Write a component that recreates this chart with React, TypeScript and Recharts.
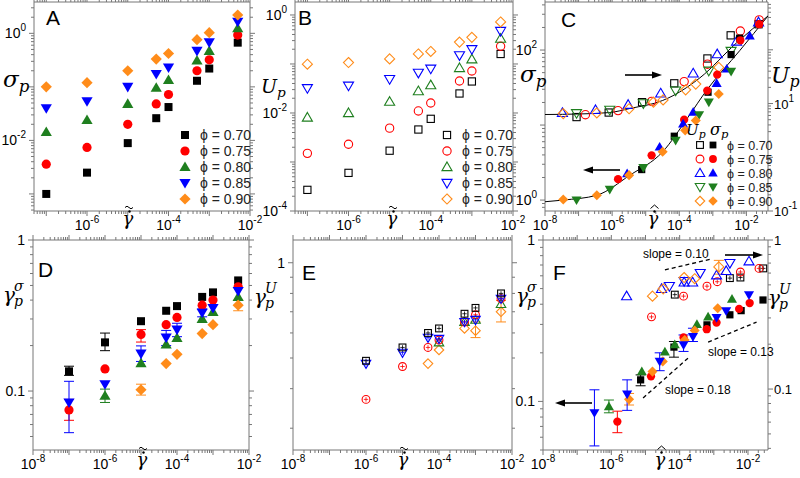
import React from "react";
import {
  ComposedChart,
  Scatter,
  Line,
  XAxis,
  YAxis,
  ErrorBar,
  ReferenceArea,
  ReferenceLine,
} from "recharts";

const PHI = ["0.70", "0.75", "0.80", "0.85", "0.90"];
const COLORS = ["#000000", "#ff0000", "#1f7f1f", "#0000ff", "#ff8c1a"];
const SHAPES = ["square", "circle", "up", "down", "diamond"] as const;
type ShapeKind = (typeof SHAPES)[number];

// nominal shear rates used in A, B, D, E
const RATES = [1e-7, 1e-6, 1e-5, 5e-5, 1e-4, 5e-4, 1e-3, 5e-3];

// A: sigma_p
const sA70 = [1.0e-3, 2.5e-3, 8.9e-3, 0.026, 0.042, 0.13, 0.22, 0.67];
const sA75 = [3.6e-3, 7.4e-3, 0.02, 0.048, 0.072, 0.2, 0.32, 0.93];
const sA80 = [0.0143, 0.024, 0.048, 0.096, 0.134, 0.31, 0.47, 1.24];
const sA85 = [0.04, 0.054, 0.1, 0.174, 0.23, 0.47, 0.68, 1.65];
const sA90 = [0.1, 0.12, 0.2, 0.33, 0.42, 0.76, 1.03, 2.2];

// B: U_p
const uB70 = [2.7e-4, 6e-4, 1.7e-3, 4.6e-3, 7.6e-3, 0.025, 0.044, 0.16];
const uB75 = [1.5e-3, 2.3e-3, 4.9e-3, 0.011, 0.016, 0.045, 0.072, 0.23];
const uB80 = [8.1e-3, 0.01, 0.017, 0.028, 0.037, 0.083, 0.125, 0.33];
const uB85 = [0.032, 0.036, 0.049, 0.066, 0.08, 0.15, 0.2, 0.47];
const uB90 = [0.099, 0.107, 0.127, 0.16, 0.18, 0.28, 0.35, 0.72];

// C: open = U_p (right axis), filled = sigma_p (left axis), rescaled rate
const cU70x = [8.7e-8, 7.9e-7, 7.8e-6, 7.1e-5, 6.9e-4, 3.4e-3, 2.3e-2];
const cU70 = [5.6, 6.8, 10.6, 23.8, 69, 186, 299];
const cU75x = [1.6e-7, 1.5e-6, 1.5e-5, 1.4e-4, 6.9e-4, 6.6e-3, 2.4e-2];
const cU75 = [6.2, 7.4, 11.0, 25.6, 54, 224, 360];
const cU80x = [3.3e-8, 3.2e-7, 3.0e-6, 2.8e-5, 2.6e-4, 1.35e-3, 5.1e-3, 2.3e-2];
const cU80 = [6.7, 7.6, 9.5, 15.5, 36.5, 83, 143, 326];
const cU85x = [8.7e-8, 8.5e-7, 8.5e-6, 7.8e-5, 7.6e-4, 3.5e-3];
const cU85 = [6.6, 7.6, 10.1, 17.4, 40.7, 95];
const cU90x = [3.5e-8, 3.5e-7, 3.2e-6, 1.7e-5, 3.3e-5, 1.55e-4, 3.1e-4, 1.5e-3];
const cU90 = [6.5, 6.7, 8.0, 10.6, 11.7, 18, 23, 47];

const cS70x = [7.6e-6, 7.1e-5, 7.2e-4, 3.5e-3, 6.3e-3];
const cS70 = [2.55, 7.1, 27.4, 87, 144];
const cS75x = [1.5e-6, 1.5e-5, 1.4e-4, 6.8e-4, 1.35e-3, 6.6e-3, 2.4e-2];
const cS75 = [1.9, 3.95, 11.8, 28.8, 47, 135, 221];
const cS80x = [2.8e-6, 2.6e-5, 1.3e-4, 2.6e-4, 1.3e-3, 2.6e-3, 1.26e-2];
const cS80 = [2.26, 5.1, 10.4, 14.9, 36, 56, 155];
const cS85x = [8.7e-8, 8.5e-7, 8.5e-6, 7.8e-5, 3.9e-4, 7.6e-4, 3.5e-3];
const cS85 = [1.0, 1.39, 2.7, 6.25, 13.7, 20.2, 52];
const cS90x = [3.5e-8, 3.5e-7, 3.2e-6, 3.2e-5, 1.5e-4, 3.1e-4, 1.5e-3];
const cS90 = [1.02, 1.16, 2.15, 4.4, 8.5, 11.5, 26];

// C: fitted curves
const fitUx = [1e-8, 1.1e-7, 8.5e-7, 3.4e-6, 3.2e-5, 6.5e-5, 4.1e-4, 5.1e-3, 0.044];
const fitU = [6.25, 6.4, 6.8, 8.1, 11.4, 14, 30, 135, 427];
const fitSx = [1e-8, 3.5e-8, 3.5e-7, 3.4e-6, 3.2e-5, 1.8e-4, 6.5e-4, 6.3e-3, 0.044];
const fitS = [0.95, 1.0, 1.16, 2.15, 4.4, 12.6, 29, 98, 285];

// D: gamma_p^sigma with error bounds [lo, hi]
type Bound = [number, number] | null;
const dS70 = [0.135, 0.21, 0.29, 0.34, 0.365, 0.42, 0.45, 0.54];
const dE70: Bound[] = [[0.127, 0.146], [0.185, 0.242], null, null, null, null, null, null];
const dS75 = [0.075, 0.14, 0.237, 0.275, 0.307, 0.37, 0.4, 0.49];
const dE75: Bound[] = [[0.064, 0.088], null, [0.211, 0.255], null, null, null, null, null];
const dS80 = [0.084, 0.111, 0.177, 0.226, 0.255, 0.33, 0.355, 0.46];
const dE80: Bound[] = [[0.053, 0.116], null, [0.157, 0.199], [0.2, 0.252], [0.229, 0.281], [0.31, 0.35], null, null];
const dS85 = [0.093, 0.153, 0.203, 0.225, 0.3, 0.334, 0.42];
const dE85: Bound[] = [[0.084, 0.103], null, null, null, null, null, null];
const dS90 = [0.102, 0.152, 0.175, 0.24, 0.275, 0.37];
const dE90: Bound[] = [[0.094, 0.111], null, null, null, null, [0.34, 0.4]];

// E: gamma_p^U
const eU70 = [0.49, 0.54, 0.6, 0.62, 0.69, 0.72, 0.8];
const eU75 = [0.37, 0.47, 0.54, 0.57, 0.65, 0.685, 0.77];
const eU80 = [0.48, 0.52, 0.58, 0.575, 0.65, 0.66, 0.77];
const eU85 = [0.56, 0.65, 0.66, 0.74];
const eU90 = [0.48, 0.53, 0.62, 0.61, 0.7];
const eE90: Bound[] = [null, null, null, [0.58, 0.65], [0.65, 0.76]];

// F: filled = gamma_p^sigma (left), open = gamma_p^U (right), rescaled rate
const fS70x = [7.2e-6, 6.8e-5, 6.3e-4, 2.95e-3, 6.3e-3, 2.75e-2];
const fS70 = [0.136, 0.217, 0.298, 0.344, 0.365, 0.425];
const fE70: Bound[] = [[0.125, 0.146], [0.188, 0.235], null, null, null, null];
const fS75x = [1.5e-6, 1.45e-5, 1.3e-4, 6.2e-4, 1.2e-3, 5.5e-3, 1.12e-2];
const fS75 = [0.075, 0.143, 0.249, 0.28, 0.308, 0.374, 0.407];
const fE75: Bound[] = [[0.064, 0.087], null, null, null, null, null, null];
const fS80x = [3.2e-7, 2.9e-6, 2.6e-5, 1.3e-4, 2.45e-4, 1.2e-3, 2.3e-3, 1.07e-2];
const fS80 = [0.085, 0.111, 0.177, 0.224, 0.252, 0.33, 0.364, 0.457];
const fE80: Bound[] = [[0.053, 0.118], [0.088, 0.136], [0.155, 0.2], [0.204, 0.258], [0.235, 0.284], null, null, null];
const fS85x = [8.5e-7, 7.8e-6, 3.7e-5, 7.2e-5, 3.2e-4, 6.8e-4, 3.4e-3];
const fS85 = [0.093, 0.153, 0.203, 0.225, 0.3, 0.334, 0.43];
const fE85: Bound[] = [[0.085, 0.102], null, null, null, null, null, null];
const fS90x = [3.3e-6, 1.6e-5, 3.2e-5, 1.4e-4, 2.75e-4, 1.3e-3];
const fS90 = [0.103, 0.153, 0.177, 0.24, 0.275, 0.378];
const fE90: Bound[] = [[0.095, 0.112], null, null, null, null, null];

const fU70x = [7.2e-5, 2.95e-3, 6.0e-3, 2.8e-2];
const fU70 = [0.43, 0.555, 0.56, 0.645];
const fU75x = [1.5e-5, 1.3e-4, 6.3e-4, 1.26e-3, 6.0e-3, 2.1e-2];
const fU75 = [0.305, 0.42, 0.49, 0.525, 0.61, 0.645];
const fU80x = [2.8e-6, 2.95e-5, 1.35e-4, 2.4e-4, 1.2e-3, 2.3e-3, 1.07e-2];
const fU80 = [0.42, 0.47, 0.52, 0.52, 0.58, 0.62, 0.72];
const fU85x = [5e-5, 1.35e-4, 4e-4, 2.95e-3];
const fU85 = [0.49, 0.53, 0.6, 0.7];
const fU90x = [1.6e-5, 3.3e-5, 1.35e-4, 2.75e-4, 1.4e-3];
const fU90 = [0.42, 0.47, 0.56, 0.55, 0.66];
const fUE90: Bound[] = [null, null, null, null, [0.59, 0.73]];

const AX = "#777";
const SANS = "'Liberation Sans', Arial, sans-serif";
const SERIF = "'DejaVu Serif', 'Liberation Serif', serif";
const LW = 44;
const RW = 44;
const MT = 8;
const BH = 34;

type Pt = { x: number; y: number; err?: [number, number] };
function pts(xs: number[], ys: number[], errs?: Bound[]): Pt[] {
  return xs.map((x, i) => {
    const e = errs ? errs[i] : null;
    return e ? { x, y: ys[i], err: [ys[i] - e[0], e[1] - ys[i]] } : { x, y: ys[i] };
  });
}

type AxisSpec = { domain: [number, number]; majors: number[]; labels: number[]; fmt: "pow" | "dec" };

const near = (a: number, b: number) => Math.abs(a - b) / Math.abs(b) < 1e-6;

function ticksOf(ax: AxisSpec) {
  const [lo, hi] = ax.domain;
  const out: number[] = [];
  const decades = [ax.majors[0] / 10, ...ax.majors];
  for (const d of decades)
    for (let k = 1; k <= 9; k++) {
      const v = +(d * k).toPrecision(6);
      if (v >= lo * 0.9999 && v <= hi * 1.0001 && !out.some((o) => near(o, v))) out.push(v);
    }
  return out.sort((a, b) => a - b);
}

function tickText(v: number, fmt: "pow" | "dec") {
  if (fmt === "dec") return <tspan>{String(v)}</tspan>;
  const e = Math.round(Math.log10(v));
  return (
    <>
      <tspan>10</tspan>
      <tspan dy={-7} fontSize={10}>
        {e < 0 ? "-" + Math.abs(e) : String(e)}
      </tspan>
    </>
  );
}

function XTick(props: any) {
  const { x, y, payload, ax, plotH } = props;
  const v = payload.value;
  const major = ax.majors.some((m: number) => near(m, v));
  const lab = ax.labels.some((m: number) => near(m, v));
  const L = major ? 5 : 3;
  return (
    <g>
      <line x1={x} x2={x} y1={y} y2={y + L} stroke={AX} />
      <line x1={x} x2={x} y1={y - plotH} y2={y - plotH - L} stroke={AX} />
      {lab && (
        <text x={x} y={y + 19} textAnchor="middle" fontSize={14} fontFamily={SANS} fill="#000">
          {tickText(v, ax.fmt)}
        </text>
      )}
    </g>
  );
}

function YTick(props: any) {
  const { x, y, payload, ax, side, plotW } = props;
  const v = payload.value;
  const major = ax.majors.some((m: number) => near(m, v));
  const lab = ax.labels.some((m: number) => near(m, v));
  const L = major ? 5 : 3;
  const dir = side === "left" ? -1 : 1;
  return (
    <g>
      <line x1={x} x2={x + dir * L} y1={y} y2={y} stroke={AX} />
      {plotW > 0 && <line x1={x + plotW} x2={x + plotW + L} y1={y} y2={y} stroke={AX} />}
      {lab && (
        <text
          x={x + dir * (side === "left" ? 8 : 6)}
          y={y + 5}
          textAnchor={side === "left" ? "end" : "start"}
          fontSize={side === "left" ? 14 : 13}
          fontFamily={SANS}
          fill="#000"
        >
          {tickText(v, ax.fmt)}
        </text>
      )}
    </g>
  );
}

function Marker(props: {
  shape: ShapeKind;
  cx: number;
  cy: number;
  color: string;
  open?: boolean;
  cross?: boolean;
  s?: number;
}) {
  const { shape, cx, cy, color, open = false, cross = false, s = 1 } = props;
  let body: React.ReactNode = null;
  if (shape === "square") {
    const h = 4 * s;
    body = <rect x={cx - h} y={cy - h} width={2 * h} height={2 * h} />;
  } else if (shape === "circle") {
    body = <circle cx={cx} cy={cy} r={4.6 * s} />;
  } else if (shape === "up") {
    const h = 5.6 * s;
    body = <polygon points={`${cx},${cy - h} ${cx + h},${cy + h * 0.72} ${cx - h},${cy + h * 0.72}`} />;
  } else if (shape === "down") {
    const h = 5.6 * s;
    body = <polygon points={`${cx},${cy + h} ${cx + h},${cy - h * 0.72} ${cx - h},${cy - h * 0.72}`} />;
  } else {
    const h = 5.6 * s;
    body = <polygon points={`${cx},${cy - h} ${cx + h},${cy} ${cx},${cy + h} ${cx - h},${cy}`} />;
  }
  const c = 2.6 * s;
  return (
    <g fill={open ? "none" : color} stroke={open ? color : "none"} strokeWidth={1.1}>
      {body}
      {cross && (
        <path
          d={`M${cx - c} ${cy}H${cx + c}M${cx} ${cy - c}V${cy + c}`}
          stroke={color}
          strokeWidth={0.8}
          fill="none"
        />
      )}
    </g>
  );
}

type SeriesSpec = {
  pts: Pt[];
  color: string;
  shape: ShapeKind;
  open?: boolean;
  cross?: boolean;
  axis?: "l" | "r";
  s?: number;
};
type CurveSpec = { xs: number[]; ys: number[]; axis: "l" | "r" };
type SegSpec = { a: { x: number; y: number }; b: { x: number; y: number }; axis: "l" | "r" };
type Frame = { left: number; top: number; w: number; h: number };

function Panel(props: {
  frame: Frame;
  xAx: AxisSpec;
  yl: AxisSpec;
  yr?: AxisSpec;
  series: SeriesSpec[];
  curves?: CurveSpec[];
  segs?: SegSpec[];
}) {
  const { frame, xAx, yl, yr, series, curves = [], segs = [] } = props;
  const W = LW + frame.w + RW;
  const H = MT + frame.h + BH;
  return (
    <div style={{ position: "absolute", left: frame.left - LW, top: frame.top - MT }}>
      <ComposedChart width={W} height={H} margin={{ top: MT, right: yr ? 0 : RW, bottom: 0, left: 0 }}>
        <XAxis
          xAxisId="b"
          type="number"
          dataKey="x"
          scale="log"
          domain={xAx.domain}
          allowDataOverflow
          ticks={ticksOf(xAx)}
          interval={0}
          tickSize={0}
          tickMargin={0}
          axisLine={false}
          tickLine={false}
          height={BH}
          tick={(p: any) => <XTick {...p} ax={xAx} plotH={frame.h} />}
        />
        <YAxis
          yAxisId="l"
          type="number"
          dataKey="y"
          scale="log"
          domain={yl.domain}
          allowDataOverflow
          ticks={ticksOf(yl)}
          interval={0}
          tickSize={0}
          tickMargin={0}
          axisLine={false}
          tickLine={false}
          width={LW}
          tick={(p: any) => <YTick {...p} ax={yl} side="left" plotW={yr ? 0 : frame.w} />}
        />
        {yr && (
          <YAxis
            yAxisId="r"
            orientation="right"
            type="number"
            dataKey="y"
            scale="log"
            domain={yr.domain}
            allowDataOverflow
            ticks={ticksOf(yr)}
            interval={0}
            tickSize={0}
            tickMargin={0}
            axisLine={false}
            tickLine={false}
            width={RW}
            tick={(p: any) => <YTick {...p} ax={yr} side="right" plotW={0} />}
          />
        )}
        <ReferenceArea
          xAxisId="b"
          yAxisId="l"
          x1={xAx.domain[0]}
          x2={xAx.domain[1]}
          y1={yl.domain[0]}
          y2={yl.domain[1]}
          fill="none"
          stroke={AX}
          strokeWidth={1}
          ifOverflow="visible"
        />
        {segs.map((sg, i) => (
          <ReferenceLine
            key={"sg" + i}
            xAxisId="b"
            yAxisId={sg.axis}
            segment={[sg.a, sg.b]}
            stroke="#000"
            strokeWidth={1.3}
            strokeDasharray="4 3"
          />
        ))}
        {curves.map((c, i) => (
          <Line
            key={"c" + i}
            xAxisId="b"
            yAxisId={c.axis}
            data={c.xs.map((x, j) => ({ x, y: c.ys[j] }))}
            dataKey="y"
            type="monotone"
            stroke="#000"
            strokeWidth={1}
            dot={false}
            activeDot={false}
            isAnimationActive={false}
          />
        ))}
        {series
          .filter((s) => s.pts.some((p) => p.err))
          .map((s, i) => (
            <Scatter
              key={"e" + i}
              xAxisId="b"
              yAxisId={s.axis || "l"}
              data={s.pts.filter((p) => p.err)}
              shape={() => <g />}
              isAnimationActive={false}
            >
              <ErrorBar dataKey="err" direction="y" width={5} stroke={s.color} strokeWidth={1} isAnimationActive={false} />
            </Scatter>
          ))}
        {series.map((s, i) => (
          <Scatter
            key={"s" + i}
            xAxisId="b"
            yAxisId={s.axis || "l"}
            data={s.pts}
            isAnimationActive={false}
            shape={(p: any) => (
              <Marker shape={s.shape} cx={p.cx} cy={p.cy} color={s.color} open={s.open} cross={s.cross} s={s.s} />
            )}
          />
        ))}
      </ComposedChart>
    </div>
  );
}

// axes
const xAB: AxisSpec = { domain: [5e-8, 1e-2], majors: [1e-7, 1e-6, 1e-5, 1e-4, 1e-3, 1e-2], labels: [1e-6, 1e-4, 1e-2], fmt: "pow" };
const yA: AxisSpec = { domain: [4.8e-4, 3.85], majors: [1e-3, 1e-2, 1e-1, 1], labels: [1e-2, 1], fmt: "pow" };
const yB: AxisSpec = { domain: [1e-4, 1.84], majors: [1e-4, 1e-3, 1e-2, 1e-1, 1], labels: [1e-4, 1e-2, 1], fmt: "pow" };
const DEC8 = [1e-8, 1e-7, 1e-6, 1e-5, 1e-4, 1e-3, 1e-2];
const LAB8 = [1e-8, 1e-6, 1e-4, 1e-2];
const xC: AxisSpec = { domain: [1e-8, 0.044], majors: DEC8, labels: LAB8, fmt: "pow" };
const ylC: AxisSpec = { domain: [0.715, 437], majors: [1, 10, 100], labels: [1, 100], fmt: "pow" };
const yrC: AxisSpec = { domain: [0.1, 776], majors: [0.1, 1, 10, 100], labels: [0.1, 10], fmt: "pow" };
const xDE: AxisSpec = { domain: [1e-8, 1e-2], majors: DEC8, labels: LAB8, fmt: "pow" };
const yD: AxisSpec = { domain: [0.0407, 1], majors: [0.1, 1], labels: [0.1, 1], fmt: "dec" };
const yE: AxisSpec = { domain: [0.256, 1.18], majors: [1], labels: [1], fmt: "dec" };
const xF: AxisSpec = { domain: [1e-8, 0.0385], majors: DEC8, labels: LAB8, fmt: "pow" };
const ylF: AxisSpec = { domain: [0.05, 1], majors: [0.1, 1], labels: [0.1, 1], fmt: "dec" };
const yrF: AxisSpec = { domain: [0.039, 1], majors: [0.1, 1], labels: [0.1, 1], fmt: "dec" };

const mk = (p: Pt[], i: number, extra: Partial<SeriesSpec> = {}): SeriesSpec => ({
  pts: p,
  color: COLORS[i],
  shape: SHAPES[i],
  ...extra,
});

const seriesA = [sA70, sA75, sA80, sA85, sA90].map((ys, i) => mk(pts(RATES, ys), i));
const seriesB = [uB70, uB75, uB80, uB85, uB90].map((ys, i) => mk(pts(RATES, ys), i, { open: true, s: 0.9 }));
const seriesC: SeriesSpec[] = [
  mk(pts(cU70x, cU70), 0, { open: true, axis: "r", s: 0.9 }),
  mk(pts(cU75x, cU75), 1, { open: true, axis: "r", s: 0.9 }),
  mk(pts(cU80x, cU80), 3, { open: true, axis: "r", s: 0.9, shape: "up" }),
  mk(pts(cU85x, cU85), 2, { open: true, axis: "r", s: 0.9, shape: "down" }),
  mk(pts(cU90x, cU90), 4, { open: true, axis: "r", s: 0.9 }),
  mk(pts(cS70x, cS70), 0, { s: 0.9 }),
  mk(pts(cS75x, cS75), 1, { s: 0.9 }),
  mk(pts(cS80x, cS80), 3, { s: 0.9, shape: "up" }),
  mk(pts(cS85x, cS85), 2, { s: 0.9, shape: "down" }),
  mk(pts(cS90x, cS90), 4, { s: 0.9 }),
];
const curvesC: CurveSpec[] = [
  { xs: fitUx, ys: fitU, axis: "r" },
  { xs: fitSx, ys: fitS, axis: "l" },
];
const seriesD: SeriesSpec[] = [
  mk(pts(RATES, dS70, dE70), 0),
  mk(pts(RATES, dS75, dE75), 1),
  mk(pts(RATES.slice(1), dS85, dE85), 2),
  mk(pts(RATES, dS80, dE80), 3),
  mk(pts(RATES.slice(2), dS90, dE90), 4),
];
const RE = RATES.slice(1);
const seriesE: SeriesSpec[] = [
  mk(pts(RATES.slice(3), eU90, eE90), 4, { open: true, s: 0.85 }),
  mk(pts(RATES.slice(4), eU85), 2, { open: true, s: 0.85 }),
  mk(pts(RE, eU75), 1, { open: true, cross: true, s: 0.85 }),
  mk(pts(RE, eU80), 3, { open: true, cross: true, s: 0.85 }),
  mk(pts(RE, eU70), 0, { open: true, cross: true, s: 0.85 }),
];
const seriesF: SeriesSpec[] = [
  mk(pts(fU70x, fU70), 0, { open: true, cross: true, axis: "r", s: 0.85 }),
  mk(pts(fU75x, fU75), 1, { open: true, cross: true, axis: "r", s: 0.85 }),
  mk(pts(fU80x, fU80), 3, { open: true, axis: "r", s: 0.9, shape: "up" }),
  mk(pts(fU85x, fU85), 3, { open: true, axis: "r", s: 0.9, shape: "down" }),
  mk(pts(fU90x, fU90, fUE90), 4, { open: true, axis: "r", s: 0.9 }),
  mk(pts(fS70x, fS70, fE70), 0, { s: 0.9 }),
  mk(pts(fS75x, fS75, fE75), 1, { s: 0.9 }),
  mk(pts(fS85x, fS85, fE85), 2, { s: 0.9 }),
  mk(pts(fS90x, fS90, fE90), 4, { s: 0.9 }),
  mk(pts(fS80x, fS80, fE80), 3, { s: 0.9 }),
];
const segsF: SegSpec[] = [
  { a: { x: 3.7e-5, y: 0.63 }, b: { x: 8.5e-4, y: 0.746 }, axis: "r" },
  { a: { x: 6.8e-4, y: 0.233 }, b: { x: 0.0178, y: 0.31 }, axis: "l" },
  { a: { x: 8.5e-6, y: 0.105 }, b: { x: 2.0e-4, y: 0.19 }, axis: "l" },
];

// rate symbol: gamma with an overdot and a tilde (or hat) on top
function GammaRate({ x, y, hat }: { x: number; y: number; hat?: boolean }) {
  return (
    <g>
      <text x={x} y={y} fontSize={18} fontFamily={SERIF} fontStyle="italic" textAnchor="middle">
        γ
      </text>
      <circle cx={x + 1.5} cy={y - 13.5} r={1.2} fill="#000" />
      {hat ? (
        <path d={`M${x - 2.5} ${y - 16.5} L${x + 1.5} ${y - 20} L${x + 5.5} ${y - 16.5}`} stroke="#000" strokeWidth={1} fill="none" />
      ) : (
        <path d={`M${x - 3} ${y - 17.5} q2 -2.6 4 0 t4 0`} stroke="#000" strokeWidth={1} fill="none" />
      )}
    </g>
  );
}

function GammaP({ x, y, sup }: { x: number; y: number; sup: string }) {
  return (
    <g fontFamily={SERIF} fontStyle="italic" fill="#000">
      <text x={x} y={y} fontSize={20}>
        γ
      </text>
      <text x={x + 11} y={y - 11} fontSize={14}>
        {sup}
      </text>
      <text x={x + 11} y={y + 4} fontSize={14}>
        p
      </text>
    </g>
  );
}

function SubLabel({ x, y, base, size }: { x: number; y: number; base: string; size: number }) {
  return (
    <text x={x} y={y} fontFamily={SERIF} fontStyle="italic" fontSize={size} fill="#000">
      {base}
      <tspan dy={size * 0.2} fontSize={size * 0.72}>
        p
      </tspan>
    </text>
  );
}

function Arrow({ x1, x2, y }: { x1: number; x2: number; y: number }) {
  const d = x2 > x1 ? 1 : -1;
  return (
    <g>
      <line x1={x1} x2={x2 - d * 8} y1={y} y2={y} stroke="#000" strokeWidth={1.6} />
      <polygon points={`${x2},${y} ${x2 - d * 10},${y - 3.5} ${x2 - d * 10},${y + 3.5}`} fill="#000" />
    </g>
  );
}

const LEG_A_Y = [135, 151, 167, 183, 199];
const LEG_C_Y = [145, 159, 173, 187, 201];

function Overlay() {
  const letter = (t: string, x: number, y: number) => (
    <text x={x} y={y} fontSize={21} fontFamily={SANS} fill="#000">
      {t}
    </text>
  );
  const legText = (x: number, y: number, i: number, fs: number) => (
    <text x={x} y={y + 5} fontSize={fs} fontFamily={SANS} fill="#222">
      {"\u03D5 = " + PHI[i]}
    </text>
  );
  return (
    <svg width={800} height={478} style={{ position: "absolute", left: 0, top: 0, pointerEvents: "none" }}>
      {letter("A", 46, 25)}
      {letter("B", 298, 25)}
      {letter("C", 561, 27)}
      {letter("D", 38, 277)}
      {letter("E", 302, 280)}
      {letter("F", 553, 280)}

      <SubLabel x={3} y={87} base="σ" size={23} />
      <SubLabel x={261} y={93} base="U" size={19} />
      <SubLabel x={520} y={82} base="σ" size={23} />
      <SubLabel x={771} y={83} base="U" size={22} />
      <GammaP x={3} y={302} sup="σ" />
      <GammaP x={254} y={304} sup="U" />
      <GammaP x={516} y={303} sup="σ" />
      <GammaP x={768} y={305} sup="U" />

      <GammaRate x={128} y={225} />
      <GammaRate x={392} y={225} />
      <GammaRate x={653} y={225} hat />
      <GammaRate x={142} y={466} />
      <GammaRate x={403} y={466} />
      <GammaRate x={660} y={466} hat />

      {LEG_A_Y.map((y, i) => (
        <g key={"la" + i}>
          <Marker shape={SHAPES[i]} cx={185} cy={y} color={COLORS[i]} />
          {legText(200, y, i, 14)}
        </g>
      ))}
      {LEG_A_Y.map((y, i) => (
        <g key={"lb" + i}>
          <Marker shape={SHAPES[i]} cx={447} cy={y} color={COLORS[i]} open s={0.9} />
          {legText(462, y, i, 14)}
        </g>
      ))}
      <SubLabel x={686} y={135} base="U" size={15} />
      <SubLabel x={710} y={135} base="σ" size={16} />
      {LEG_C_Y.map((y, i) => {
        const ci = i === 2 ? 3 : i === 3 ? 2 : i;
        return (
          <g key={"lc" + i}>
            <Marker shape={SHAPES[i]} cx={700} cy={y} color={COLORS[ci]} open s={0.85} />
            <Marker shape={SHAPES[i]} cx={713} cy={y} color={COLORS[ci]} s={0.85} />
            {legText(727, y, i, 12.5)}
          </g>
        );
      })}

      <Arrow x1={625} x2={662} y={75} />
      <Arrow x1={620} x2={583} y={170} />
      <Arrow x1={592} x2={555} y={403} />
      <Arrow x1={725} x2={763} y={255} />

      <g fontSize={12} fontFamily={SANS} fill="#000">
        <text x={643} y={258}>slope = 0.10</text>
        <text x={708} y={356}>slope = 0.13</text>
        <text x={665} y={394}>slope = 0.18</text>
      </g>
    </svg>
  );
}

export default function App() {
  return (
    <div style={{ position: "absolute", left: 0, top: 0, width: 800, height: 478, background: "#fff", overflow: "hidden" }}>
      <Panel frame={{ left: 34, top: 2, w: 216, h: 209 }} xAx={xAB} yl={yA} series={seriesA} />
      <Panel frame={{ left: 295, top: 2, w: 218, h: 209 }} xAx={xAB} yl={yB} series={seriesB} />
      <Panel frame={{ left: 545, top: 2, w: 223, h: 209 }} xAx={xC} yl={ylC} yr={yrC} series={seriesC} curves={curvesC} />
      <Panel frame={{ left: 33, top: 240, w: 216, h: 210 }} xAx={xDE} yl={yD} series={seriesD} />
      <Panel frame={{ left: 293, top: 240, w: 219, h: 210 }} xAx={xDE} yl={yE} series={seriesE} />
      <Panel frame={{ left: 543, top: 240, w: 225, h: 210 }} xAx={xF} yl={ylF} yr={yrF} series={seriesF} segs={segsF} />
      <Overlay />
    </div>
  );
}
